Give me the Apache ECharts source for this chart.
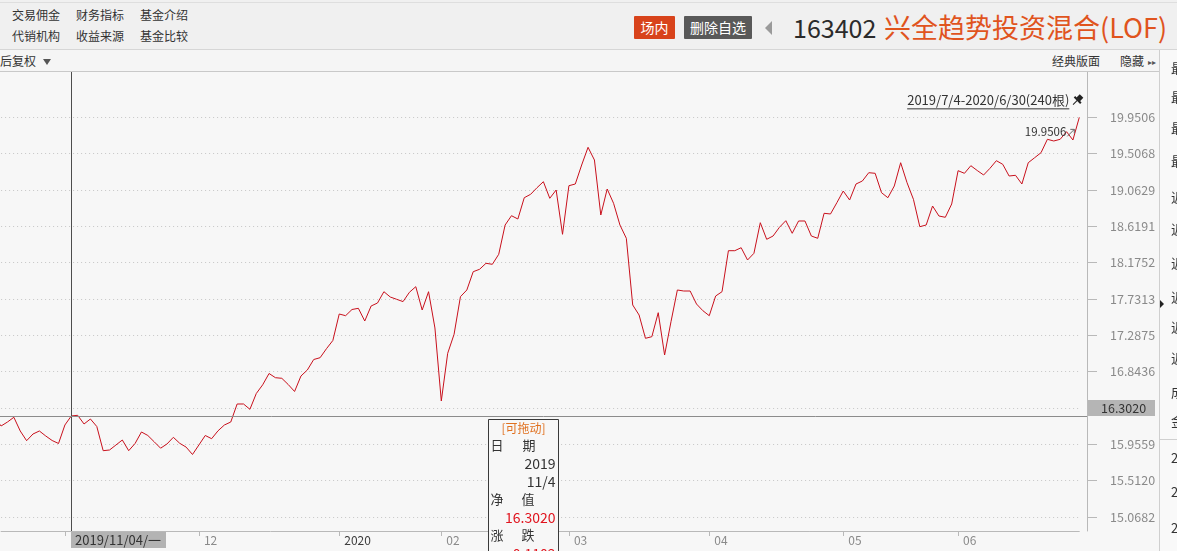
<!DOCTYPE html>
<html><head><meta charset="utf-8">
<script src="https://cdn.jsdelivr.net/npm/echarts@6/dist/echarts.min.js"></script>
<style>
html,body{margin:0;padding:0;width:1177px;height:551px;overflow:hidden;background:#f7f7f7;font-family:"Noto Sans CJK SC","Noto Sans",sans-serif;color:#333;}
#chart{position:absolute;left:0;top:0;width:1177px;height:551px;z-index:1;}
.abs{position:absolute;white-space:nowrap;}
#hdr{position:absolute;left:0;top:0;width:1177px;height:49px;background:#f0f0f0;border-bottom:1px solid #d6d6d6;z-index:2;}
#topline{position:absolute;left:0;top:2px;width:1177px;height:1px;background:#dedede;}
#bar{position:absolute;left:0;top:50px;width:1177px;height:21px;background:#f5f5f5;border-bottom:1px solid #c9c9c9;z-index:2;}
.m{font-size:12px;line-height:14px;color:#333;}
.badge{position:absolute;top:16px;height:23px;line-height:23px;font-size:14px;color:#fff;text-align:center;border-radius:1px;}
#side{position:absolute;left:1159px;top:50px;width:18px;height:501px;background:#f9f9f9;border-left:1px solid #cfcfcf;z-index:3;}
.sc{position:absolute;left:11px;font-size:13px;line-height:14px;color:#333;}
#handle{position:absolute;left:1160px;top:300px;width:0;height:0;border-top:4px solid transparent;border-bottom:4px solid transparent;border-left:4px solid #222;z-index:4;}
#sideline{position:absolute;left:1160px;top:439px;width:17px;height:1px;background:#d0d0d0;z-index:4;}
</style></head>
<body>
<div id="chart"></div>
<div id="hdr">
  <div id="topline"></div>
  <div class="abs m" style="left:12px;top:8px">交易佣金</div>
  <div class="abs m" style="left:76px;top:8px">财务指标</div>
  <div class="abs m" style="left:140px;top:8px">基金介绍</div>
  <div class="abs m" style="left:12px;top:29px">代销机构</div>
  <div class="abs m" style="left:76px;top:29px">收益来源</div>
  <div class="abs m" style="left:140px;top:29px">基金比较</div>
  <div class="badge" style="left:634px;width:41px;background:#d8431b;">场内</div>
  <div class="badge" style="left:684px;width:68px;background:#595959;">删除自选</div>
  <div class="abs" style="left:765px;top:21px;width:0;height:0;border-top:7px solid transparent;border-bottom:7px solid transparent;border-right:7px solid #9a9a9a;"></div>
  <div class="abs" style="left:793px;top:10px;font-size:25px;line-height:34px;color:#2b2b2b;">163402</div>
  <div class="abs" style="left:884px;top:9px;font-size:27px;line-height:36px;color:#e0541e;">兴全趋势投资混合(LOF)</div>
</div>
<div id="bar">
  <div class="abs m" style="left:0px;top:4px">后复权</div>
  <div class="abs" style="left:43px;top:9px;width:0;height:0;border-left:4px solid transparent;border-right:4px solid transparent;border-top:6px solid #555;"></div>
  <div class="abs m" style="left:1052px;top:4px">经典版面</div>
  <div class="abs m" style="left:1120px;top:4px">隐藏</div>
  <div class="abs" style="left:1148px;top:8px;font-size:8px;line-height:8px;color:#555;">▸▸</div>
</div>
<div id="side"></div>
<div id="handle"></div>
<div id="sideline"></div>
<script>
// ---- data ----
const dates = [
 '2019/10/17','2019/10/18','2019/10/21','2019/10/22','2019/10/23','2019/10/24','2019/10/25','2019/10/28','2019/10/29','2019/10/30','2019/10/31',
 '2019/11/01','2019/11/04','2019/11/05','2019/11/06','2019/11/07','2019/11/08','2019/11/11','2019/11/12','2019/11/13','2019/11/14','2019/11/15','2019/11/18','2019/11/19','2019/11/20','2019/11/21','2019/11/22','2019/11/25','2019/11/26','2019/11/27','2019/11/28','2019/11/29',
 '2019/12/02','2019/12/03','2019/12/04','2019/12/05','2019/12/06','2019/12/09','2019/12/10','2019/12/11','2019/12/12','2019/12/13','2019/12/16','2019/12/17','2019/12/18','2019/12/19','2019/12/20','2019/12/23','2019/12/24','2019/12/25','2019/12/26','2019/12/27','2019/12/30','2019/12/31',
 '2020/01/02','2020/01/03','2020/01/06','2020/01/07','2020/01/08','2020/01/09','2020/01/10','2020/01/13','2020/01/14','2020/01/15','2020/01/16','2020/01/17','2020/01/20','2020/01/21','2020/01/22','2020/01/23',
 '2020/02/03','2020/02/04','2020/02/05','2020/02/06','2020/02/07','2020/02/10','2020/02/11','2020/02/12','2020/02/13','2020/02/14','2020/02/17','2020/02/18','2020/02/19','2020/02/20','2020/02/21','2020/02/24','2020/02/25','2020/02/26','2020/02/27','2020/02/28',
 '2020/03/02','2020/03/03','2020/03/04','2020/03/05','2020/03/06','2020/03/09','2020/03/10','2020/03/11','2020/03/12','2020/03/13','2020/03/16','2020/03/17','2020/03/18','2020/03/19','2020/03/20','2020/03/23','2020/03/24','2020/03/25','2020/03/26','2020/03/27','2020/03/30','2020/03/31',
 '2020/04/01','2020/04/02','2020/04/03','2020/04/07','2020/04/08','2020/04/09','2020/04/10','2020/04/13','2020/04/14','2020/04/15','2020/04/16','2020/04/17','2020/04/20','2020/04/21','2020/04/22','2020/04/23','2020/04/24','2020/04/27','2020/04/28','2020/04/29','2020/04/30',
 '2020/05/06','2020/05/07','2020/05/08','2020/05/11','2020/05/12','2020/05/13','2020/05/14','2020/05/15','2020/05/18','2020/05/19','2020/05/20','2020/05/21','2020/05/22','2020/05/25','2020/05/26','2020/05/27','2020/05/28','2020/05/29',
 '2020/06/01','2020/06/02','2020/06/03','2020/06/04','2020/06/05','2020/06/08','2020/06/09','2020/06/10','2020/06/11','2020/06/12','2020/06/15','2020/06/16','2020/06/17','2020/06/18','2020/06/19','2020/06/22','2020/06/23','2020/06/24','2020/06/29','2020/06/30'
];
const nav = [
 16.2773,16.1796,16.2284,16.2859,16.1185,16.0000,16.0818,16.1185,16.0574,16.0024,15.9658,
 16.1918,16.3020,16.3103,16.2040,16.2651,16.1734,15.8778,15.8864,15.9474,16.0085,15.8778,15.9658,16.1063,16.0635,15.9865,15.9083,15.9597,16.0415,15.9682,15.9218,15.8314,
 15.9474,16.0635,16.0244,16.1209,16.1918,16.2284,16.4484,16.4484,16.3836,16.5766,16.6829,16.8210,16.7697,16.7623,16.6866,16.6011,16.7904,16.8637,16.9920,17.0140,17.1240,17.2242,
 17.5479,17.5272,17.6029,17.6176,17.4624,17.6457,17.6823,17.8204,17.7556,17.7275,17.6994,17.8131,17.8815,17.5968,17.8204,17.3769,
 16.4850,17.0678,17.2999,17.7593,17.8412,18.0647,18.0941,18.1674,18.1551,18.2773,18.6353,18.7489,18.7086,18.9688,19.0104,19.0910,19.1643,18.9615,19.0629,18.5217,
 19.1154,19.1362,19.3683,19.5846,19.4294,18.7575,19.0751,18.9004,18.6353,18.4728,17.6579,17.5357,17.2510,17.2706,17.5638,17.0470,17.4538,17.8412,17.8289,17.8289,17.6701,17.5882,
 17.5272,17.7678,17.8204,18.3213,18.3213,18.3579,18.2077,18.2895,18.6634,18.4606,18.5009,18.6072,18.6878,18.5339,18.6842,18.6842,18.5009,18.4728,18.7782,18.7697,18.9077,
 19.0507,18.9407,19.1362,19.1729,19.2743,19.2669,19.0299,18.9688,19.1118,19.3964,19.1521,18.9493,18.6145,18.6353,18.8674,18.7452,18.7294,18.8919,
 19.2987,19.2669,19.3598,19.3011,19.2462,19.3280,19.4209,19.3769,19.2339,19.2425,19.1362,19.3964,19.4575,19.5186,19.6823,19.6616,19.6823,19.7752,19.6738,19.9506
];
const yTicks = [15.0682,15.5120,15.9559,16.3998,16.8436,17.2875,17.7313,18.1752,18.6191,19.0629,19.5068,19.9506];
const yRange = [14.8967, 20.5046];
const xStart = '2019/10/18';
const crossDate = '2019/11/04';
const crossValue = 16.3020;
const crossChange = '0.1102';
const rangeText = '2019/7/4-2020/6/30(240根)';
const maxValue = 19.9506;

const sideChars = ['最','最','最','最','近','近','近','近','近','近','成','金','2','2','2'];
const sideY = [61,90,121,154,190,222,256,290,320,351,385,414,451,485,521];
const side = document.getElementById('side');
sideChars.forEach((c,i)=>{const d=document.createElement('div');d.className='sc';d.style.top=(sideY[i]-50)+'px';d.textContent=c;side.appendChild(d);});

// ---- chart ----
const FONT = '"Noto Sans CJK SC","Noto Sans",sans-serif';
const Y_OFFSET = 7.7;
const monthFirst = new Set();
dates.forEach((d,i)=>{ if(i===0) return; if(d.slice(0,7)!==dates[i-1].slice(0,7)) monthFirst.add(i); });

const chart = echarts.init(document.getElementById('chart'), null, {renderer:'canvas'});
chart.setOption({
  animation:false,
  backgroundColor:'transparent',
  textStyle:{fontFamily:FONT},
  grid:{left:1.1, right:97.7, top:72, bottom:20, containLabel:false},
  xAxis:{
    type:'category', data:dates, boundaryGap:false, min:dates.indexOf(xStart),
    axisLine:{show:true, lineStyle:{color:'#b9b9b9', width:1}},
    axisTick:{show:true, length:5, interval:(i)=>monthFirst.has(i), lineStyle:{color:'#b9b9b9'}},
    axisLabel:{
      show:true, interval:(i)=>monthFirst.has(i), align:'left', padding:[0,0,0,5], margin:3,
      fontSize:12, color:'#8a8a8a', fontFamily:FONT,
      formatter:(v)=>{ const m=v.slice(5,7); return m==='01' ? '{y|'+v.slice(0,4)+'}' : m; },
      rich:{y:{color:'#3c3c3c', fontSize:12, fontFamily:FONT}}
    },
    splitLine:{show:false}
  },
  yAxis:{
    type:'value', position:'right', min:yRange[0], max:yRange[1], offset:Y_OFFSET, scale:true,
    axisLine:{show:true, lineStyle:{color:'#b9b9b9', width:1}},
    axisTick:{show:true, length:10, customValues:yTicks, lineStyle:{color:'#b9b9b9'}},
    axisLabel:{show:true, customValues:yTicks, formatter:(v)=>Number(v).toFixed(4), margin:23, fontSize:12.5, color:'#8a8a8a', fontFamily:FONT},
    splitLine:{show:true, lineStyle:{type:[1,3], color:'#c6c6c6', width:1}}
  },
  series:[{
    type:'line', data:nav, symbol:'none', smooth:false,
    lineStyle:{color:'#c8101c', width:1}, clip:false
  }]
});

const ci = dates.indexOf(crossDate);
const p = chart.convertToPixel({gridIndex:0}, [ci, crossValue]);
const gr = chart.getModel().getComponent('grid').coordinateSystem.getRect();
const axisX = gr.x + gr.width + Y_OFFSET;
const mi = nav.indexOf(maxValue);
const pm = chart.convertToPixel({gridIndex:0}, [mi, maxValue]);

const ctx = document.createElement('canvas').getContext('2d');
ctx.font = '13px ' + FONT;
const rangeW = ctx.measureText(rangeText).width;
const rangeRight = pm[0] - 10;
const rangeY = pm[1] - 17;

const wk = ['日','一','二','三','四','五','六'][new Date(crossDate).getDay()];
const dp = crossDate.split('/');

const tipX = 488.5, tipY = 419.5;
const g = [
  // crosshair
  {type:'line', z:100, shape:{x1:Math.round(p[0])+0.5, y1:gr.y, x2:Math.round(p[0])+0.5, y2:gr.y+gr.height}, style:{stroke:'#4d4d4d', lineWidth:1}},
  {type:'line', z:100, shape:{x1:0, y1:Math.round(p[1])+0.5, x2:axisX, y2:Math.round(p[1])+0.5}, style:{stroke:'#8c8c8c', lineWidth:1}},
  {type:'rect', z:101, shape:{x:axisX+1, y:Math.round(p[1])-16, width:67, height:16}, style:{fill:'#b5b5b5'}},
  {type:'text', z:102, x:axisX+14, y:Math.round(p[1])-8, style:{text:crossValue.toFixed(4), fill:'#333', font:'12.5px '+FONT, textVerticalAlign:'middle', verticalAlign:'middle'}},
  {type:'rect', z:101, shape:{x:Math.round(p[0]), y:gr.y+gr.height+1, width:95, height:16}, style:{fill:'#b3b3b3'}},
  {type:'text', z:102, x:Math.round(p[0])+4, y:gr.y+gr.height+9, style:{text:crossDate+'/'+wk, fill:'#333', font:'13px '+FONT, verticalAlign:'middle', textVerticalAlign:'middle'}},
  // range annotation
  {type:'text', z:102, x:rangeRight, y:rangeY, style:{text:rangeText, fill:'#333', font:'13px '+FONT, align:'right', textAlign:'right', verticalAlign:'middle', textVerticalAlign:'middle'}},
  {type:'line', z:102, shape:{x1:rangeRight-rangeW, y1:rangeY+8.5, x2:rangeRight, y2:rangeY+8.5}, style:{stroke:'#333', lineWidth:1}},
  // pin icon
  {type:'group', z:102, x:rangeRight+8, y:rangeY, rotation:-Math.PI/4, children:[
    {type:'rect', z:102, shape:{x:-2.5, y:-6, width:5, height:5}, style:{fill:'#222'}},
    {type:'rect', z:102, shape:{x:-4.5, y:-1.5, width:9, height:2}, style:{fill:'#222'}},
    {type:'line', z:102, shape:{x1:0, y1:0, x2:0, y2:6}, style:{stroke:'#222', lineWidth:1}}
  ]},
  // max annotation
  {type:'text', z:102, x:pm[0]-13, y:pm[1]+14, style:{text:maxValue.toFixed(4), fill:'#333', font:'11.5px '+FONT, align:'right', textAlign:'right', verticalAlign:'middle', textVerticalAlign:'middle'}},
  {type:'line', z:102, shape:{x1:pm[0]-12, y1:pm[1]+19, x2:pm[0]-5, y2:pm[1]+12}, style:{stroke:'#666', lineWidth:1}},
  {type:'polyline', z:102, shape:{points:[[pm[0]-9,pm[1]+12],[pm[0]-5,pm[1]+12],[pm[0]-5,pm[1]+16]]}, style:{stroke:'#666', lineWidth:1, fill:null}},
  // tooltip box
  {type:'rect', z:110, shape:{x:tipX, y:tipY, width:70, height:150}, style:{fill:'#f7f7f7', stroke:'#3a3a3a', lineWidth:1}},
  {type:'text', z:111, x:tipX+35, y:tipY+9, style:{text:'[可拖动]', fill:'#e0701e', font:'12px '+FONT, align:'center', textAlign:'center', verticalAlign:'middle', textVerticalAlign:'middle'}},
  {type:'text', z:111, x:tipX+2, y:tipY+26, style:{text:'日', fill:'#333', font:'13px '+FONT, verticalAlign:'middle', textVerticalAlign:'middle'}},
  {type:'text', z:111, x:tipX+34, y:tipY+26, style:{text:'期', fill:'#333', font:'13px '+FONT, verticalAlign:'middle', textVerticalAlign:'middle'}},
  {type:'text', z:111, x:tipX+67, y:tipY+44, style:{text:dp[0], fill:'#333', font:'14px '+FONT, align:'right', textAlign:'right', verticalAlign:'middle', textVerticalAlign:'middle'}},
  {type:'text', z:111, x:tipX+67, y:tipY+62, style:{text:(+dp[1])+'/'+(+dp[2]), fill:'#333', font:'14px '+FONT, align:'right', textAlign:'right', verticalAlign:'middle', textVerticalAlign:'middle'}},
  {type:'text', z:111, x:tipX+2, y:tipY+80, style:{text:'净', fill:'#333', font:'13px '+FONT, verticalAlign:'middle', textVerticalAlign:'middle'}},
  {type:'text', z:111, x:tipX+33, y:tipY+80, style:{text:'值', fill:'#333', font:'13px '+FONT, verticalAlign:'middle', textVerticalAlign:'middle'}},
  {type:'text', z:111, x:tipX+67, y:tipY+98, style:{text:crossValue.toFixed(4), fill:'#e0141e', font:'14px '+FONT, align:'right', textAlign:'right', verticalAlign:'middle', textVerticalAlign:'middle'}},
  {type:'text', z:111, x:tipX+2, y:tipY+116, style:{text:'涨', fill:'#333', font:'13px '+FONT, verticalAlign:'middle', textVerticalAlign:'middle'}},
  {type:'text', z:111, x:tipX+33, y:tipY+116, style:{text:'跌', fill:'#333', font:'13px '+FONT, verticalAlign:'middle', textVerticalAlign:'middle'}},
  {type:'text', z:111, x:tipX+67, y:tipY+134, style:{text:crossChange, fill:'#e0141e', font:'14px '+FONT, align:'right', textAlign:'right', verticalAlign:'middle', textVerticalAlign:'middle'}}
];
chart.setOption({graphic:{elements:g}});
</script>
</body></html>
